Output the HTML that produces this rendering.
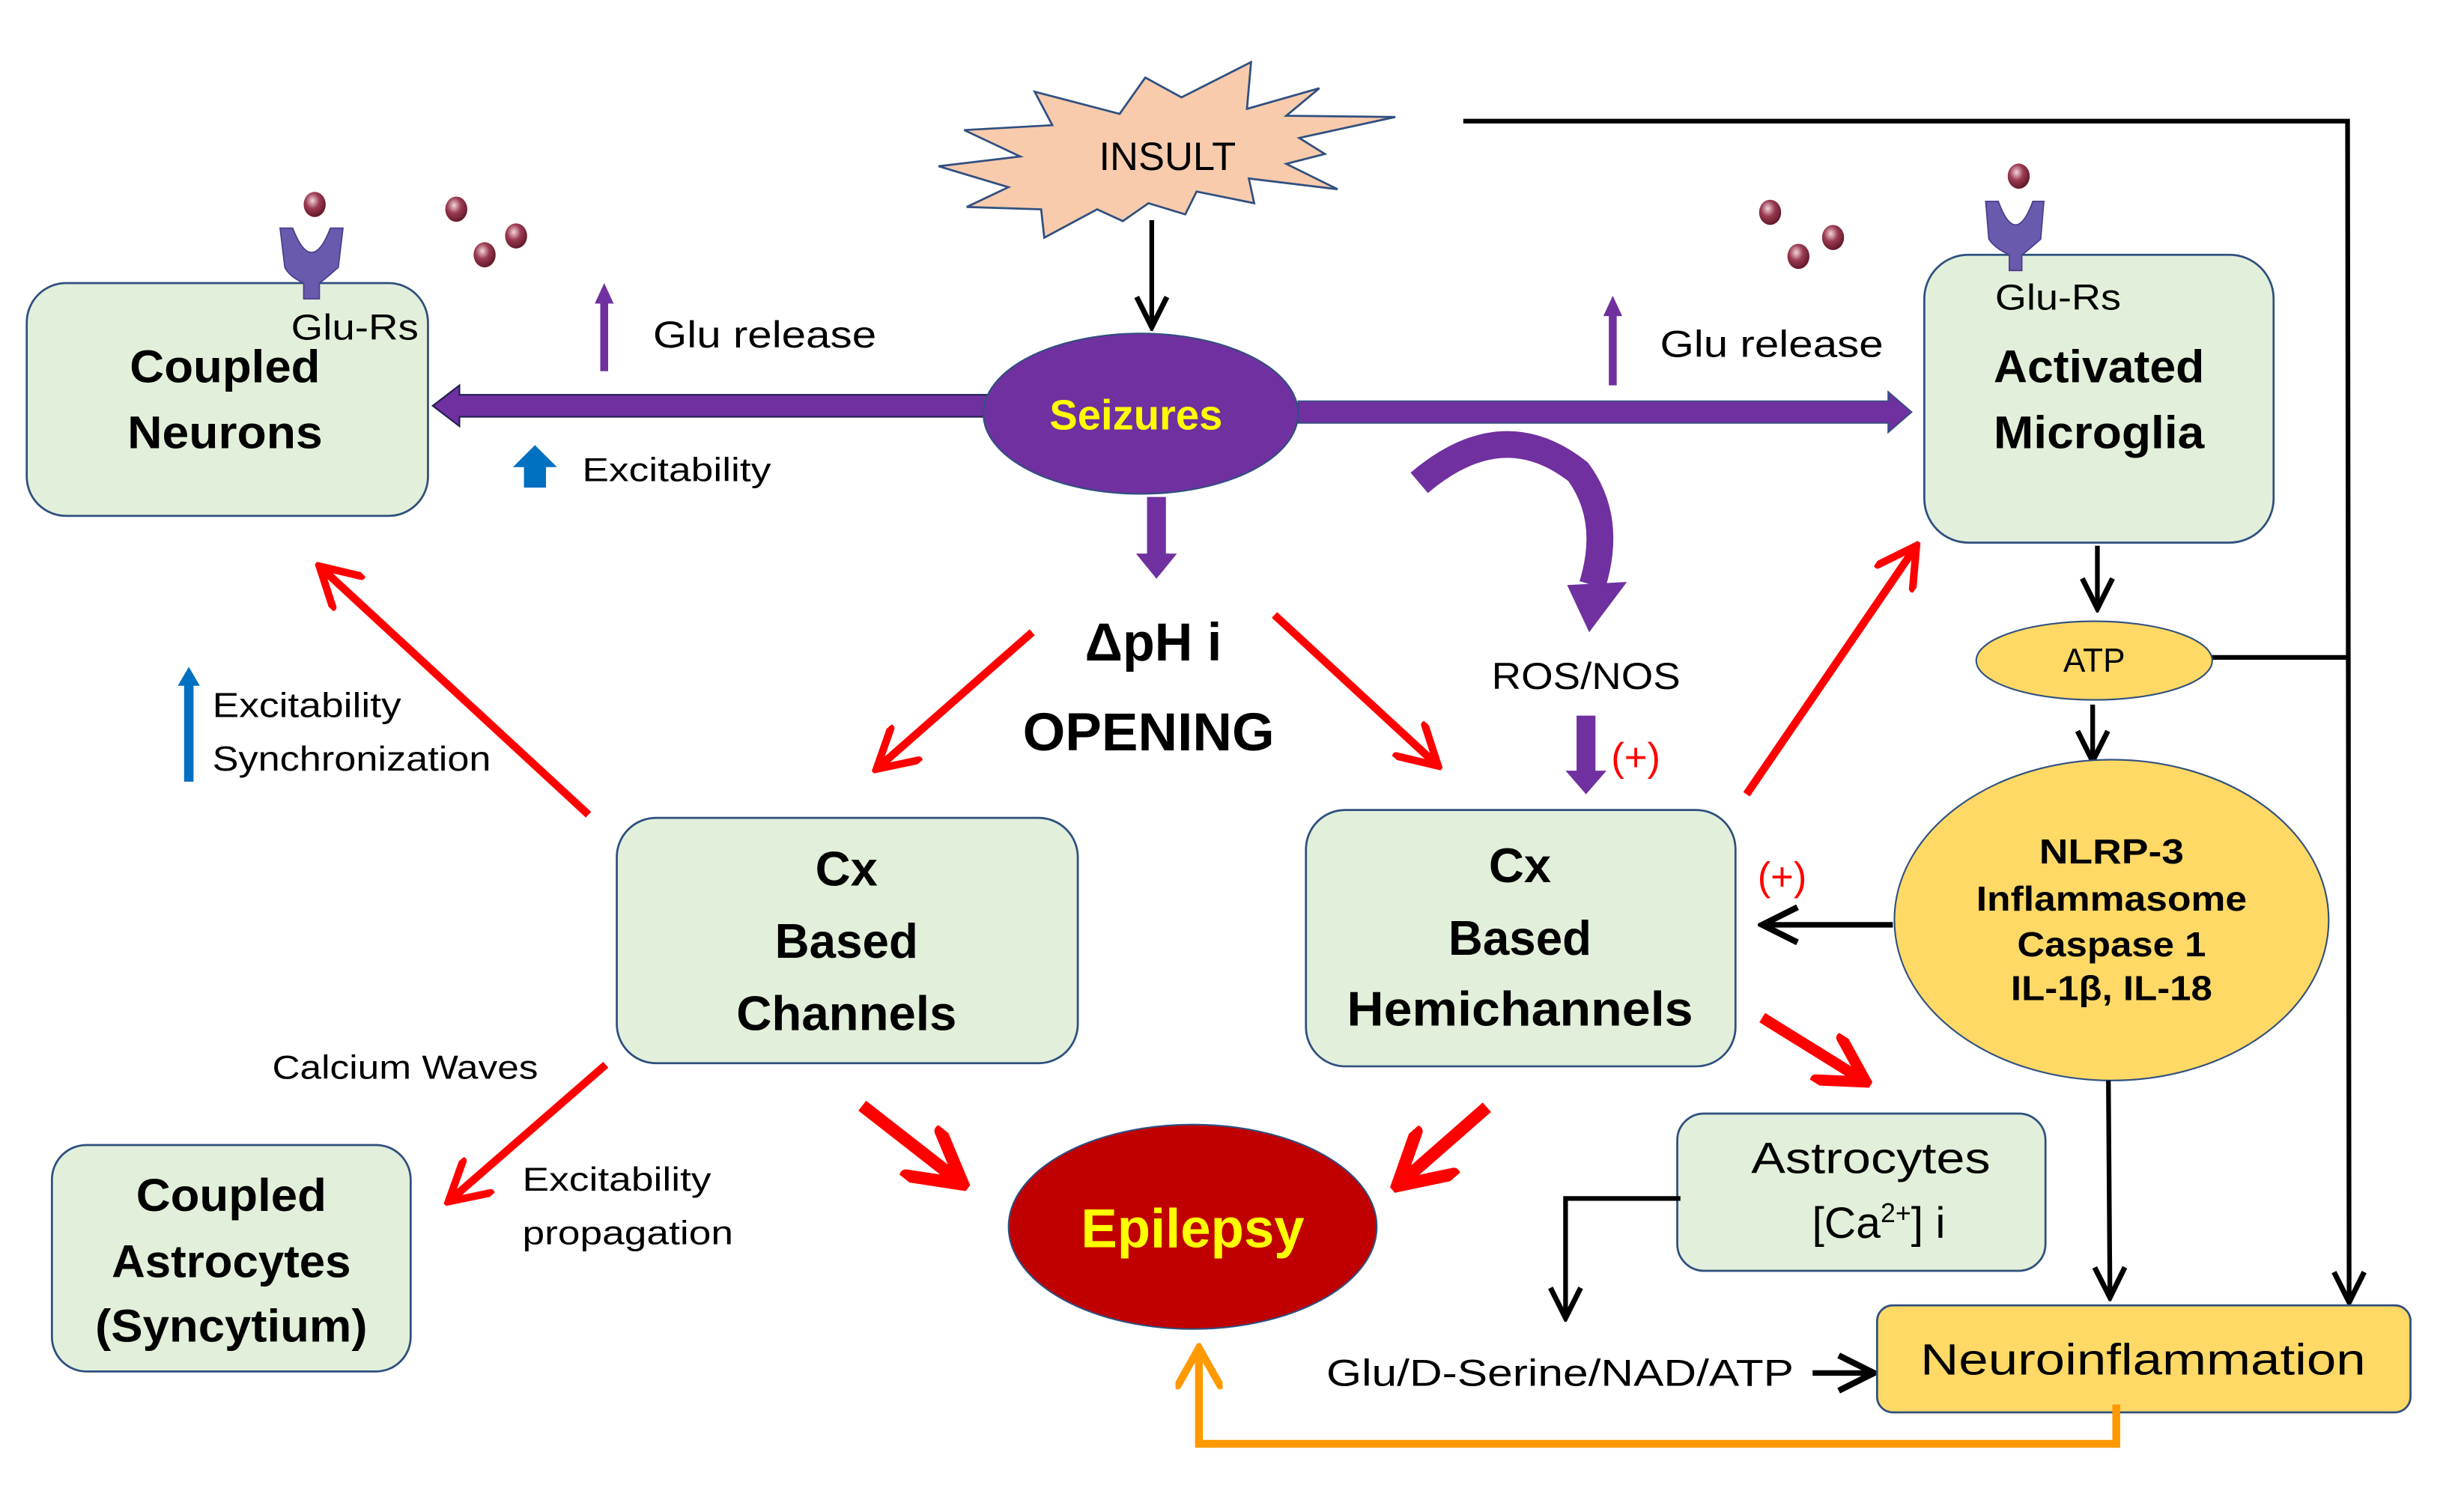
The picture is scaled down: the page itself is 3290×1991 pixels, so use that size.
<!DOCTYPE html>
<html><head><meta charset="utf-8"><style>
html,body{margin:0;padding:0;background:#fff}
svg{display:block}
text{font-family:"Liberation Sans",sans-serif;fill:#000}
.b{font-weight:bold}
</style></head><body>
<svg width="3290" height="1991" viewBox="0 0 1566 948" preserveAspectRatio="none" xmlns="http://www.w3.org/2000/svg">
<defs>
<marker id="rh" viewBox="0 0 10 10" refX="9" refY="5" markerWidth="6" markerHeight="6" orient="auto" markerUnits="strokeWidth">
<path d="M1,0.5 L9,5 L1,9.5" fill="none" stroke="#FF0000" stroke-width="1.6" stroke-linecap="round" stroke-linejoin="miter"/></marker>
<marker id="rhb" viewBox="0 0 10 10" refX="9" refY="5" markerWidth="5" markerHeight="5" orient="auto" markerUnits="strokeWidth">
<path d="M1,0.5 L9,5 L1,9.5" fill="none" stroke="#FF0000" stroke-width="2" stroke-linecap="round"/></marker>
<marker id="bh" viewBox="0 0 10 10" refX="9" refY="5" markerWidth="8" markerHeight="8" orient="auto" markerUnits="strokeWidth">
<path d="M1,1 L9,5 L1,9" fill="none" stroke="#000" stroke-width="1.4"/></marker>
<marker id="oh" viewBox="0 0 10 10" refX="9" refY="5" markerWidth="6" markerHeight="6" orient="auto" markerUnits="strokeWidth">
<path d="M1,0.5 L9,5 L1,9.5" fill="none" stroke="#FF9900" stroke-width="1.6" stroke-linecap="round"/></marker>
<radialGradient id="ball" cx="0.4" cy="0.35" r="0.7">
<stop offset="0" stop-color="#f4d6dc"/><stop offset="0.45" stop-color="#9b3b52"/><stop offset="1" stop-color="#5a1424"/></radialGradient>
</defs>

<polyline points="930,77 1492,77 1493,828" fill="none" stroke="#000" stroke-width="3" marker-end="url(#bh)"/>
<line x1="1405" y1="418" x2="1493" y2="418" stroke="#000" stroke-width="3"/>

<polygon points="596.5,105.7 648.4,99.5 612.8,82.7 668.8,79.6 657.6,58.3 711.6,72.4 727.9,49.3 750.9,61.9 795.1,39.5 792.5,69.2 838.5,56.1 817.5,73.6 886.8,74.4 825.7,87.7 842,97.9 817.5,104.2 850.1,120.3 793.7,113.5 797.1,129.2 760.5,121.8 753.3,136.3 729.9,129.2 713.6,140.6 697.3,133.1 663.7,151.1 661.7,133.1 614.4,131.6 640.9,119" fill="#F8CBAD" stroke="#2F4F7F" stroke-width="1.3"/>
<text x="742" y="108" font-size="25" text-anchor="middle" textLength="87" lengthAdjust="spacingAndGlyphs">INSULT</text>
<line x1="732" y1="140" x2="732" y2="208" stroke="#000" stroke-width="3" marker-end="url(#bh)"/>

<polygon points="628,251 292,251 292,245 275,258 292,271 292,265 628,265" fill="#7030A0" stroke="#1f1f4f" stroke-width="1"/>
<polygon points="825,255 1200,255 1200,249 1215,262 1200,275 1200,269 825,269" fill="#7030A0" stroke="#2F4F7F" stroke-width="0.8"/>
<ellipse cx="725" cy="263" rx="100" ry="51" fill="#7030A0" stroke="#2F4F7F" stroke-width="1"/>
<text x="722" y="273" font-size="27" class="b" text-anchor="middle" style="fill:#FFFF00" textLength="110" lengthAdjust="spacingAndGlyphs">Seizures</text>
<polygon points="729,316 741,316 741,352 748,352 735,368 722,352 729,352" fill="#7030A0"/>
<polygon points="1002,455 1014,455 1014,490 1021,490 1008,505 995,490 1002,490" fill="#7030A0"/>
<path d="M902,307 Q955,262 1003,300 Q1025,330 1012,372" fill="none" stroke="#7030A0" stroke-width="17"/>
<polygon points="996,372 1034,370 1010,402" fill="#7030A0"/>

<rect x="381.5" y="190" width="5" height="46" fill="#7030A0"/><polygon points="378,193 390,193 384,180" fill="#7030A0"/>
<rect x="1022.5" y="198" width="5" height="47" fill="#7030A0"/><polygon points="1019,201 1031,201 1025,188" fill="#7030A0"/>
<text x="415" y="221" font-size="24" textLength="142" lengthAdjust="spacingAndGlyphs">Glu release</text>
<text x="1055" y="227" font-size="24" textLength="142" lengthAdjust="spacingAndGlyphs">Glu release</text>

<polygon points="326,297 340,283 354,297 347,297 347,310 333,310 333,297" fill="#0070C0"/>
<text x="370" y="306" font-size="21" textLength="120" lengthAdjust="spacingAndGlyphs">Excitability</text>
<rect x="117" y="433" width="6" height="64" fill="#0070C0"/><polygon points="113,436 127,436 120,424" fill="#0070C0"/>
<text x="135" y="456" font-size="22" textLength="120" lengthAdjust="spacingAndGlyphs">Excitability</text>
<text x="135" y="490" font-size="22" textLength="177" lengthAdjust="spacingAndGlyphs">Synchronization</text>

<rect x="17" y="180" width="255" height="148" rx="25" fill="#E2EFDA" stroke="#2F4F7F" stroke-width="1.3"/>
<text x="143" y="243" font-size="29" class="b" text-anchor="middle" textLength="121" lengthAdjust="spacingAndGlyphs">Coupled</text>
<text x="143" y="285" font-size="29" class="b" text-anchor="middle" textLength="124" lengthAdjust="spacingAndGlyphs">Neurons</text>
<text x="185" y="216" font-size="23" textLength="81" lengthAdjust="spacingAndGlyphs">Glu-Rs</text>
<path d="M178,145 L186,145 Q198,176 210,145 L218,145 L215,170 Q206,178 203,180 L203,190 L193,190 L193,180 Q184,176 181,170 Z" fill="#6A5AAE" stroke="#4a3d8a" stroke-width="0.8"/>
<ellipse cx="200" cy="130" rx="7" ry="8" fill="url(#ball)"/>
<ellipse cx="290" cy="133" rx="7" ry="8" fill="url(#ball)"/>
<ellipse cx="308" cy="162" rx="7" ry="8" fill="url(#ball)"/>
<ellipse cx="328" cy="150" rx="7" ry="8" fill="url(#ball)"/>

<rect x="1223" y="162" width="222" height="183" rx="28" fill="#E2EFDA" stroke="#2F4F7F" stroke-width="1.3"/>
<path d="M1262,128 L1270,128 Q1281,158 1292,128 L1299,128 L1297,152 Q1288,160 1285,162 L1285,172 L1277,172 L1277,162 Q1268,158 1264,152 Z" fill="#6A5AAE" stroke="#4a3d8a" stroke-width="0.8"/>
<ellipse cx="1283" cy="112" rx="7" ry="8" fill="url(#ball)"/>
<ellipse cx="1125" cy="135" rx="7" ry="8" fill="url(#ball)"/>
<ellipse cx="1143" cy="163" rx="7" ry="8" fill="url(#ball)"/>
<ellipse cx="1165" cy="151" rx="7" ry="8" fill="url(#ball)"/>
<text x="1268" y="197" font-size="23" textLength="80" lengthAdjust="spacingAndGlyphs">Glu-Rs</text>
<text x="1334" y="243" font-size="29" class="b" text-anchor="middle" textLength="134" lengthAdjust="spacingAndGlyphs">Activated</text>
<text x="1334" y="285" font-size="29" class="b" text-anchor="middle" textLength="134" lengthAdjust="spacingAndGlyphs">Microglia</text>
<line x1="1333" y1="347" x2="1333" y2="387" stroke="#000" stroke-width="3" marker-end="url(#bh)"/>

<ellipse cx="1331" cy="420" rx="75" ry="25" fill="#FFD966" stroke="#2F4F7F" stroke-width="1"/>
<text x="1331" y="427" font-size="21" text-anchor="middle">ATP</text>
<line x1="1330" y1="448" x2="1330" y2="484" stroke="#000" stroke-width="3" marker-end="url(#bh)"/>

<ellipse cx="1342" cy="585" rx="138" ry="102" fill="#FFD966" stroke="#2F4F7F" stroke-width="1"/>
<text x="1342" y="549" font-size="22" class="b" text-anchor="middle" textLength="92" lengthAdjust="spacingAndGlyphs">NLRP-3</text>
<text x="1342" y="579" font-size="22" class="b" text-anchor="middle" textLength="172" lengthAdjust="spacingAndGlyphs">Inflammasome</text>
<text x="1342" y="608" font-size="22" class="b" text-anchor="middle" textLength="120" lengthAdjust="spacingAndGlyphs">Caspase 1</text>
<text x="1342" y="636" font-size="22" class="b" text-anchor="middle" textLength="128" lengthAdjust="spacingAndGlyphs">IL-1β, IL-18</text>
<line x1="1203" y1="588" x2="1120" y2="588" stroke="#000" stroke-width="3.5" marker-end="url(#bh)"/>
<line x1="1340" y1="687" x2="1341" y2="825" stroke="#000" stroke-width="3" marker-end="url(#bh)"/>

<text x="733" y="420" font-size="34" class="b" text-anchor="middle" textLength="87" lengthAdjust="spacingAndGlyphs">ΔpH i</text>
<text x="730" y="477" font-size="34" class="b" text-anchor="middle" textLength="160" lengthAdjust="spacingAndGlyphs">OPENING</text>
<text x="1008" y="438" font-size="24" text-anchor="middle" textLength="120" lengthAdjust="spacingAndGlyphs">ROS/NOS</text>
<text x="1024" y="490" font-size="25" style="fill:#FF0000">(+)</text>
<text x="1117" y="566" font-size="25" style="fill:#FF0000">(+)</text>

<g stroke="#FF0000" stroke-width="5" fill="none" stroke-linecap="butt">
<line x1="656" y1="402" x2="557" y2="489" marker-end="url(#rh)"/>
<line x1="810" y1="391" x2="914" y2="487" marker-end="url(#rh)"/>
<line x1="374" y1="518" x2="203" y2="360" marker-end="url(#rh)"/>
<line x1="1110" y1="505" x2="1218" y2="347" marker-end="url(#rh)"/>
<line x1="385" y1="677" x2="285" y2="764" marker-end="url(#rh)"/>
<line x1="548" y1="703" x2="612" y2="753" stroke-width="8" marker-end="url(#rhb)"/>
<line x1="945" y1="704" x2="888" y2="754" stroke-width="8" marker-end="url(#rhb)"/>
<line x1="1120" y1="647" x2="1186" y2="688" stroke-width="7" marker-end="url(#rhb)"/>
</g>

<rect x="392" y="520" width="293" height="156" rx="25" fill="#E2EFDA" stroke="#2F4F7F" stroke-width="1.3"/>
<text x="538" y="563" font-size="31" class="b" text-anchor="middle">Cx</text>
<text x="538" y="609" font-size="31" class="b" text-anchor="middle" textLength="91" lengthAdjust="spacingAndGlyphs">Based</text>
<text x="538" y="655" font-size="31" class="b" text-anchor="middle" textLength="140" lengthAdjust="spacingAndGlyphs">Channels</text>

<rect x="830" y="515" width="273" height="163" rx="25" fill="#E2EFDA" stroke="#2F4F7F" stroke-width="1.3"/>
<text x="966" y="561" font-size="31" class="b" text-anchor="middle">Cx</text>
<text x="966" y="607" font-size="31" class="b" text-anchor="middle" textLength="91" lengthAdjust="spacingAndGlyphs">Based</text>
<text x="966" y="652" font-size="31" class="b" text-anchor="middle" textLength="220" lengthAdjust="spacingAndGlyphs">Hemichannels</text>

<text x="173" y="686" font-size="21" textLength="169" lengthAdjust="spacingAndGlyphs">Calcium Waves</text>
<text x="332" y="757" font-size="21" textLength="120" lengthAdjust="spacingAndGlyphs">Excitability</text>
<text x="332" y="791" font-size="21" textLength="134" lengthAdjust="spacingAndGlyphs">propagation</text>

<rect x="33" y="728" width="228" height="144" rx="22" fill="#E2EFDA" stroke="#2F4F7F" stroke-width="1.3"/>
<text x="147" y="770" font-size="29" class="b" text-anchor="middle" textLength="121" lengthAdjust="spacingAndGlyphs">Coupled</text>
<text x="147" y="812" font-size="29" class="b" text-anchor="middle" textLength="152" lengthAdjust="spacingAndGlyphs">Astrocytes</text>
<text x="147" y="853" font-size="29" class="b" text-anchor="middle" textLength="173" lengthAdjust="spacingAndGlyphs">(Syncytium)</text>

<ellipse cx="758" cy="780" rx="117" ry="65" fill="#C00000" stroke="#2F4F7F" stroke-width="1"/>
<text x="758" y="793" font-size="35" class="b" text-anchor="middle" style="fill:#FFFF00" textLength="142" lengthAdjust="spacingAndGlyphs">Epilepsy</text>

<rect x="1066" y="708" width="234" height="100" rx="17" fill="#E2EFDA" stroke="#2F4F7F" stroke-width="1.3"/>
<text x="1189" y="746" font-size="28" text-anchor="middle" textLength="152" lengthAdjust="spacingAndGlyphs">Astrocytes</text>
<text x="1194" y="787" font-size="28" text-anchor="middle">[Ca<tspan font-size="17" dy="-10">2+</tspan><tspan dy="10">] i</tspan></text>
<polyline points="1068,762 995,762 995,838" fill="none" stroke="#000" stroke-width="3" marker-end="url(#bh)"/>

<text x="843" y="881" font-size="24" textLength="297" lengthAdjust="spacingAndGlyphs">Glu/D-Serine/NAD/ATP</text>
<line x1="1152" y1="873" x2="1191" y2="873" stroke="#000" stroke-width="3.5" marker-end="url(#bh)"/>

<rect x="1193" y="830" width="339" height="68" rx="10" fill="#FFD966" stroke="#2F4F7F" stroke-width="1.3"/>
<text x="1362" y="874" font-size="28" text-anchor="middle" textLength="283" lengthAdjust="spacingAndGlyphs">Neuroinflammation</text>

<polyline points="1345,893 1345,918 762,918 762,857" fill="none" stroke="#FF9900" stroke-width="5" marker-end="url(#oh)"/>
</svg>
</body></html>
